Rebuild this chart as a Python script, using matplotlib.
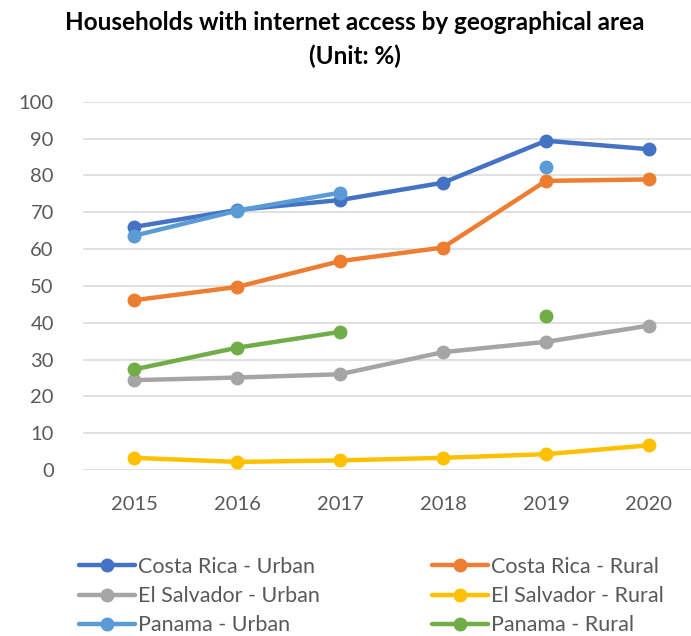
import numpy as np
import matplotlib
matplotlib.use("Agg")
import matplotlib.pyplot as plt

plt.rcParams['font.family'] = ['Lato', 'DejaVu Sans']

years = ["2015", "2016", "2017", "2018", "2019", "2020"]
nan = np.nan
cr_urban = [66.0, 70.6, 73.3, 78.0, 89.4, 87.1]
cr_rural = [46.1, 49.7, 56.7, 60.4, 78.5, 78.9]
sv_urban = [24.4, 25.1, 26.0, 32.0, 34.8, 39.2]
sv_rural = [3.3, 2.2, 2.6, 3.3, 4.3, 6.7]
pa_urban = [63.6, 70.4, 75.3, nan, 82.2, nan]
pa_rural = [27.3, 33.2, 37.5, nan, 41.7, nan]

series_names = ["Costa Rica - Urban", "Costa Rica - Rural",
                "El Salvador - Urban", "El Salvador - Rural",
                "Panama - Urban", "Panama - Rural"]
series_values = [cr_urban, cr_rural, sv_urban, sv_rural, pa_urban, pa_rural]
colors = ["#4472C4", "#ED7D31", "#A5A5A5", "#FFC000", "#5B9BD5", "#70AD47"]

W, H = 691, 636
fig = plt.figure(figsize=(W / 100, H / 100), dpi=100)

# axes box in pixel terms
left, right, top, bottom = 83, 691, 101.7, 470
ax = fig.add_axes([left / W, 1 - bottom / H, (right - left) / W, (bottom - top) / H])

x = np.arange(len(years))
handles = []
for name, vals, c in zip(series_names, series_values, colors):
    (h,) = ax.plot(x, vals, color=c, lw=3.2, marker="o", ms=9,
                   solid_capstyle="round", label=name, zorder=3)
    handles.append(h)

ax.set_ylim(0, 100)
ax.set_xlim(-0.495, 5.408)
ax.set_yticks(np.arange(0, 101, 10))
ax.set_xticks(x)
ax.set_xticklabels(years)
ax.yaxis.grid(True, color="#D9D9D9", lw=1.1)
ax.set_axisbelow(True)
for s in ax.spines.values():
    s.set_visible(False)
ax.tick_params(length=0, labelsize=14.5, labelcolor="#595959")
ax.tick_params(axis="y", pad=21)
ax.tick_params(axis="x", pad=19)

title_x = 355 / W
fig.text(title_x, 1 - 22 / H, "Households with internet access by geographical area",
         ha="center", va="center", fontsize=17.5, fontweight="bold", color="black")
fig.text(title_x, 1 - 56 / H, "(Unit: %)",
         ha="center", va="center", fontsize=17.5, fontweight="bold", color="black")

legend_kw = dict(frameon=False, fontsize=15.5, labelcolor="#595959",
                 handlelength=2.6, handletextpad=0.15, labelspacing=0.42,
                 borderaxespad=0, borderpad=0)
col1 = [handles[0], handles[2], handles[4]]
col2 = [handles[1], handles[3], handles[5]]
fig.legend(col1, [h.get_label() for h in col1], loc="upper left",
           bbox_to_anchor=(79 / W, 1 - 557 / H), **legend_kw)
fig.legend(col2, [h.get_label() for h in col2], loc="upper left",
           bbox_to_anchor=(432 / W, 1 - 557 / H), **legend_kw)

fig.savefig("out.png", dpi=100)
